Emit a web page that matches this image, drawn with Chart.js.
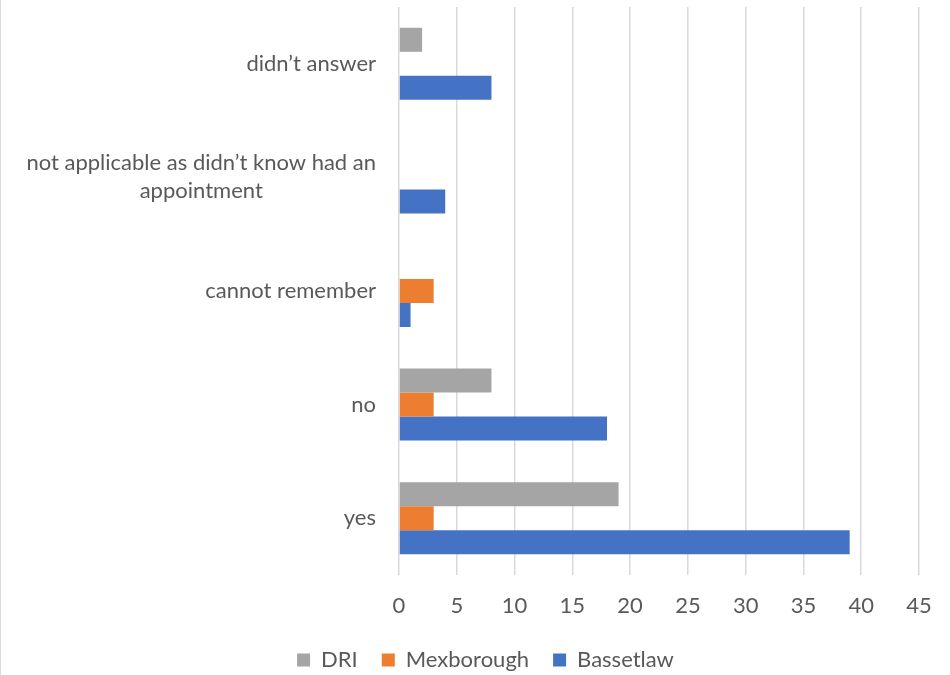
<!DOCTYPE html>
<html lang="en">
<head>
    <meta charset="UTF-8">
    <title>Survey responses</title>
    <script src="https://cdn.jsdelivr.net/npm/chart.js"></script>
    <style>
        body { margin: 0; background: #ffffff; }
        .wrap { width: 950px; height: 675px; border-left: 1px solid #d9d9d9; box-sizing: border-box; }
    </style>
</head>
<body>
    <div class="wrap">
        <canvas id="chart" width="949" height="675"></canvas>
    </div>
    <script>
        // categories, top -> bottom
        const labels = [
            'didn\u2019t answer',
            ['not applicable as didn\u2019t know had an', 'appointment'],
            'cannot remember',
            'no',
            'yes'
        ];
        const dri = [2, 0, 0, 8, 19];
        const mexborough = [0, 0, 3, 3, 3];
        const bassetlaw = [8, 4, 1, 18, 39];
        const xTicks = [0, 5, 10, 15, 20, 25, 30, 35, 40, 45];

        const fontFamily = 'Lato, "Open Sans", sans-serif';
        const fontSize = 22;
        const textColor = '#595959';

        // Excel style category labels: block right-aligned, lines centred
        const yLabelPlugin = {
            id: 'yLabels',
            afterDraw(chart) {
                const ctx = chart.ctx;
                const scale = chart.scales.y;
                const right = 375;
                ctx.save();
                ctx.font = fontSize + 'px ' + fontFamily;
                ctx.fillStyle = textColor;
                ctx.textAlign = 'center';
                ctx.textBaseline = 'middle';
                labels.forEach((lab, i) => {
                    const lines = Array.isArray(lab) ? lab : [lab];
                    const w = Math.max(...lines.map(l => ctx.measureText(l).width));
                    const cx = right - w / 2;
                    const cy = scale.getPixelForTick(i);
                    lines.forEach((l, j) => {
                        ctx.fillText(l, cx, cy + (j - (lines.length - 1) / 2) * 28);
                    });
                });
                ctx.restore();
            }
        };

        // keep wide gaps between legend items without a tall legend box
        const legendFitPlugin = {
            id: 'legendFit',
            beforeLayout(chart) {
                const lg = chart.legend;
                if (lg && !lg._fitPatched) {
                    const orig = lg.fit.bind(lg);
                    lg.fit = function () { orig(); this.height = 50; };
                    lg._fitPatched = true;
                }
            }
        };

        new Chart(document.getElementById('chart'), {
            type: 'bar',
            data: {
                labels: labels,
                datasets: [
                    { label: 'DRI', data: dri, backgroundColor: '#a5a5a5' },
                    { label: 'Mexborough', data: mexborough, backgroundColor: '#ed7d31' },
                    { label: 'Bassetlaw', data: bassetlaw, backgroundColor: '#4472c4' }
                ]
            },
            options: {
                indexAxis: 'y',
                responsive: false,
                animation: false,
                categoryPercentage: 0.634,
                barPercentage: 1.0,
                layout: { padding: { top: 7, right: 31, left: 51, bottom: 0 } },
                plugins: {
                    legend: {
                        position: 'bottom',
                        labels: {
                            boxWidth: 13,
                            boxHeight: 13,
                            padding: 24,
                            color: textColor,
                            font: { family: fontFamily, size: fontSize }
                        }
                    },
                    tooltip: { enabled: false }
                },
                scales: {
                    x: {
                        min: 0,
                        max: 45,
                        afterBuildTicks(axis) { axis.ticks = xTicks.map(v => ({ value: v })); },
                        grid: { color: '#d9d9d9', lineWidth: 1.5, drawTicks: false },
                        border: { display: false },
                        ticks: { padding: 18, color: textColor, font: { family: fontFamily, size: fontSize } },
                        afterFit(axis) { axis.height = 50; }
                    },
                    y: {
                        grid: { display: false },
                        border: { display: false },
                        ticks: { display: false },
                        afterFit(axis) { axis.width = 347; }
                    }
                }
            },
            plugins: [yLabelPlugin, legendFitPlugin]
        });
    </script>
</body>
</html>
